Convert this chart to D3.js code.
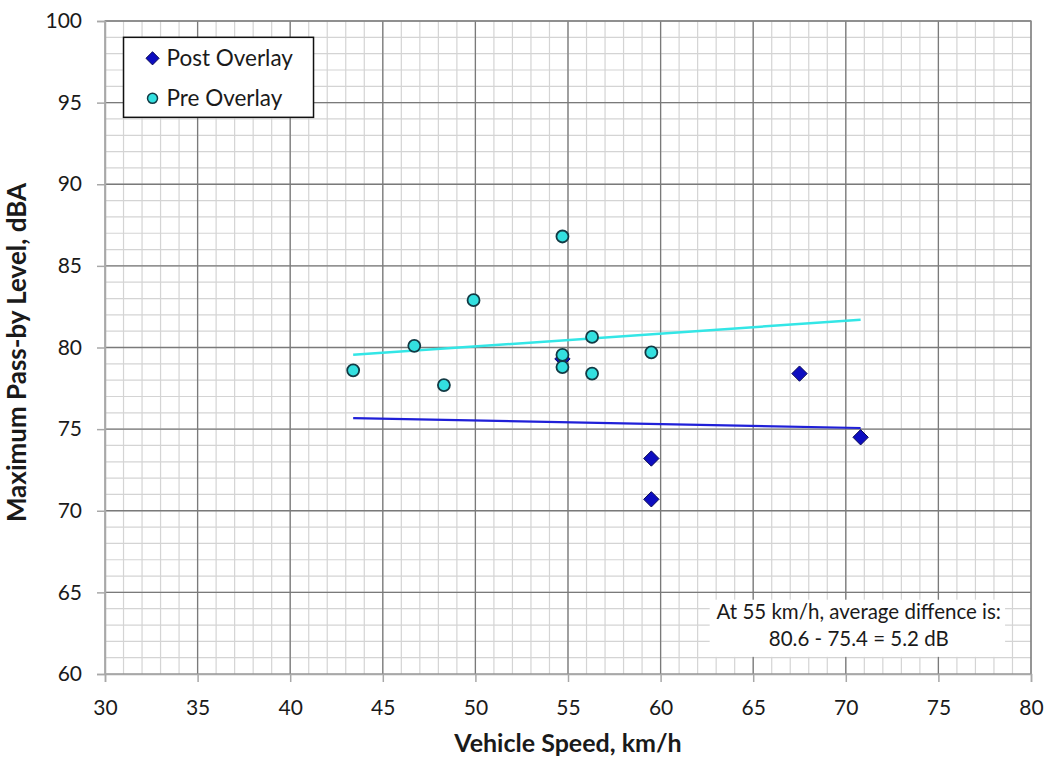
<!DOCTYPE html>
<html>
<head>
<meta charset="utf-8">
<script src="https://cdn.jsdelivr.net/npm/d3@7"></script>
<style>
  body { margin: 0; background: #fff; }
  svg text { font-family: Lato, "Open Sans", sans-serif; fill: #1a1a1a; }
</style>
</head>
<body>
<div id="chart"></div>
<script>
// series
var postSpeed = [54.7, 59.5, 59.5, 67.5, 70.8];
var postLevel = [79.3, 73.2, 70.7, 78.4, 74.5];
var preSpeed = [43.4, 46.7, 48.3, 49.9, 54.7, 54.7, 54.7, 56.3, 56.3, 59.5];
var preLevel = [78.6, 80.1, 77.7, 82.9, 86.8, 79.55, 78.8, 80.65, 78.4, 79.7];
// linear trend lines (start/end)
var trendSpeed = [43.4, 70.8];
var postTrend = [75.67, 75.07];
var preTrend = [79.55, 81.7];
var xTicks = [30, 35, 40, 45, 50, 55, 60, 65, 70, 75, 80];
var yTicks = [60, 65, 70, 75, 80, 85, 90, 95, 100];
var note = ["At 55 km/h, average diffence is:", "80.6 - 75.4 = 5.2 dB"];

var W = 1048, H = 760;
var margin = {top: 21, right: 17, bottom: 86, left: 105};
var width = W - margin.left - margin.right;
var height = H - margin.top - margin.bottom;

var x = d3.scaleLinear().domain([30, 80]).range([0, width]);
var y = d3.scaleLinear().domain([60, 100]).range([height, 0]);

var svg = d3.select("#chart").append("svg")
    .attr("width", W)
    .attr("height", H)
  .append("g")
    .attr("transform", "translate(" + margin.left + "," + margin.top + ")");

// minor grid, 1 unit
svg.append("g").selectAll("line")
  .data(d3.range(31, 80))
  .enter().append("line")
  .attr("x1", function(d) { return x(d); }).attr("x2", function(d) { return x(d); })
  .attr("y1", 0).attr("y2", height)
  .attr("stroke", "#d4d4d4").attr("stroke-width", 1.2);
svg.append("g").selectAll("line")
  .data(d3.range(61, 100))
  .enter().append("line")
  .attr("y1", function(d) { return y(d); }).attr("y2", function(d) { return y(d); })
  .attr("x1", 0).attr("x2", width)
  .attr("stroke", "#d4d4d4").attr("stroke-width", 1.2);

// major grid
svg.append("g").selectAll("line")
  .data(xTicks.slice(1))
  .enter().append("line")
  .attr("x1", function(d) { return x(d); }).attr("x2", function(d) { return x(d); })
  .attr("y1", 0).attr("y2", height)
  .attr("stroke", "#7a7a7a").attr("stroke-width", 1.3);
svg.append("g").selectAll("line")
  .data(yTicks.slice(1))
  .enter().append("line")
  .attr("y1", function(d) { return y(d); }).attr("y2", function(d) { return y(d); })
  .attr("x1", 0).attr("x2", width)
  .attr("stroke", "#7a7a7a").attr("stroke-width", 1.3);

// axes
var xAxis = svg.append("g")
  .attr("transform", "translate(0," + height + ")")
  .call(d3.axisBottom(x).tickValues(xTicks).tickSize(8).tickPadding(18));
var yAxis = svg.append("g")
  .call(d3.axisLeft(y).tickValues(yTicks).tickSize(8).tickPadding(15));
[xAxis, yAxis].forEach(function(a) {
  a.select(".domain").attr("stroke", "#a8a8a8").attr("stroke-width", 1.5);
  a.selectAll(".tick line").attr("stroke", "#a8a8a8").attr("stroke-width", 1.5);
  a.selectAll(".tick text").style("font-family", "Lato, sans-serif")
    .style("font-size", "21px").attr("fill", "#1a1a1a");
});

// annotation box
var note_g = svg.append("g");
note_g.append("rect")
  .attr("x", x(62.65)).attr("y", y(64.55))
  .attr("width", x(78.6) - x(62.65)).attr("height", y(61.05) - y(64.55))
  .attr("fill", "#fff");
note_g.selectAll("text")
  .data(note)
  .enter().append("text")
  .attr("x", x(70.7))
  .attr("y", function(d, i) { return y(63.35) + i * 27; })
  .attr("text-anchor", "middle")
  .style("font-size", "20.5px")
  .text(function(d) { return d; });

// trend lines
var line = d3.line()
  .x(function(d) { return x(d[0]); })
  .y(function(d) { return y(d[1]); });
svg.append("path")
  .datum(d3.zip(trendSpeed, preTrend))
  .attr("d", line)
  .attr("fill", "none").attr("stroke", "#33e6e6").attr("stroke-width", 2.5);
svg.append("path")
  .datum(d3.zip(trendSpeed, postTrend))
  .attr("d", line)
  .attr("fill", "none").attr("stroke", "#2020d8").attr("stroke-width", 2.2);

// points
var diamond = d3.symbol().type(d3.symbolDiamond2).size(150);
svg.append("g").selectAll("path")
  .data(d3.zip(postSpeed, postLevel))
  .enter().append("path")
  .attr("d", diamond)
  .attr("transform", function(d) { return "translate(" + x(d[0]) + "," + y(d[1]) + ")"; })
  .attr("fill", "#0d0dc0").attr("stroke", "#0a0a55").attr("stroke-width", 1);
svg.append("g").selectAll("circle")
  .data(d3.zip(preSpeed, preLevel))
  .enter().append("circle")
  .attr("cx", function(d) { return x(d[0]); })
  .attr("cy", function(d) { return y(d[1]); })
  .attr("r", 6)
  .attr("fill", "#33e0e0").attr("stroke", "#123a44").attr("stroke-width", 1.8);

// top / right frame
svg.append("rect")
  .attr("width", width).attr("height", height)
  .attr("fill", "none").attr("stroke", "#8a8a8a").attr("stroke-width", 1.3);
xAxis.raise(); yAxis.raise();

// legend
var leg = svg.append("g").attr("transform", "translate(" + (x(31)) + "," + (y(99)) + ")");
leg.append("rect")
  .attr("x", 0).attr("y", 0).attr("width", 190).attr("height", 80)
  .attr("fill", "#fff").attr("stroke", "#111").attr("stroke-width", 1.5);
leg.append("path")
  .attr("d", d3.symbol().type(d3.symbolDiamond2).size(110))
  .attr("transform", "translate(29,21)")
  .attr("fill", "#0d0dc0").attr("stroke", "#0a0a55");
leg.append("circle")
  .attr("cx", 29).attr("cy", 61).attr("r", 5)
  .attr("fill", "#33e0e0").attr("stroke", "#123a44").attr("stroke-width", 1.5);
leg.selectAll("text")
  .data(["Post Overlay", "Pre Overlay"])
  .enter().append("text")
  .attr("x", 43)
  .attr("y", function(d, i) { return 21 + i * 40; })
  .attr("dy", "0.35em")
  .style("font-size", "22.5px")
  .text(function(d) { return d; });

// axis titles
svg.append("text")
  .attr("x", x(55)).attr("y", height + 78)
  .attr("text-anchor", "middle")
  .style("font-size", "25px").style("font-weight", "bold")
  .text("Vehicle Speed, km/h");
svg.append("text")
  .attr("transform", "translate(" + (-79) + "," + (y(80) + 5) + ") rotate(-90)")
  .attr("text-anchor", "middle")
  .style("font-size", "26px").style("font-weight", "bold")
  .text("Maximum Pass-by Level, dBA");
</script>
</body>
</html>
